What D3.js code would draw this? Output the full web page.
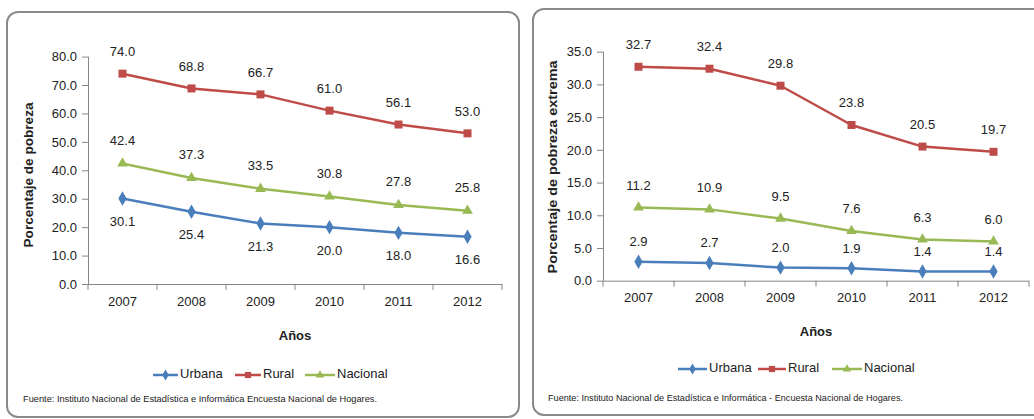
<!DOCTYPE html>
<html>
<head>
<meta charset="utf-8">
<script src="https://cdn.jsdelivr.net/npm/d3@7"></script>
<style>
  html, body { margin: 0; padding: 0; background: #fff; }
  svg { display: block; font-family: "Liberation Sans", Arial, sans-serif; }
</style>
</head>
<body>
<svg id="chart" width="1034" height="419"></svg>
<script>
const years = ["2007", "2008", "2009", "2010", "2011", "2012"];
const seriesNames = ["Urbana", "Rural", "Nacional"];

// Panel 1: pobreza total
const pobrezaUrbana = [30.1, 25.4, 21.3, 20.0, 18.0, 16.6];
const pobrezaRural = [74.0, 68.8, 66.7, 61.0, 56.1, 53.0];
const pobrezaNacional = [42.4, 37.3, 33.5, 30.8, 27.8, 25.8];
const ticksPobreza = [0, 10, 20, 30, 40, 50, 60, 70, 80];

// Panel 2: pobreza extrema
const extremaUrbana = [2.9, 2.7, 2.0, 1.9, 1.4, 1.4];
const extremaRural = [32.7, 32.4, 29.8, 23.8, 20.5, 19.7];
const extremaNacional = [11.2, 10.9, 9.5, 7.6, 6.3, 6.0];
const ticksExtrema = [0, 5, 10, 15, 20, 25, 30, 35];

const colors = { Urbana: "#4A7EBB", Rural: "#BE4B48", Nacional: "#98B954" };
const symbols = { Urbana: d3.symbolDiamond, Rural: d3.symbolSquare, Nacional: d3.symbolTriangle };
const symSize = { Urbana: 60, Rural: 64, Nacional: 50 };

const svg = d3.select("#chart");

// cut-off blue title at the very top (only descenders visible in the reference)
svg.append("text").attr("x", 70).attr("y", -3)
  .attr("fill", "#1F4E9A").attr("font-weight", "bold").attr("font-size", 16)
  .text("(Porcentaje de pobreza total y pobreza extrema según ámbito geográfico, 2007 - 2012)");

// panel frames
svg.append("rect").attr("x", 7).attr("y", 12).attr("width", 512).attr("height", 405)
  .attr("rx", 11).attr("fill", "none").attr("stroke", "#8a8a8a").attr("stroke-width", 2);
svg.append("rect").attr("x", 533).attr("y", 9).attr("width", 520).attr("height", 406)
  .attr("rx", 11).attr("fill", "none").attr("stroke", "#8a8a8a").attr("stroke-width", 2);

function drawPanel(cfg) {
  const g = svg.append("g");
  const x = d3.scaleBand().domain(years).range([cfg.x0, cfg.x1]);
  const y = d3.scaleLinear().domain([0, cfg.ymax]).range([cfg.y0, cfg.y1]);

  // y axis
  const yAxis = d3.axisLeft(y).tickValues(cfg.ticks).tickFormat(d3.format(".1f")).tickSize(6).tickPadding(5);
  const ya = g.append("g").attr("transform", `translate(${cfg.x0},0)`).call(yAxis);
  // x axis
  const xAxis = d3.axisBottom(x).tickSize(0).tickPadding(cfg.xPad);
  const xa = g.append("g").attr("transform", `translate(0,${cfg.y0})`).call(xAxis);
  // category boundary ticks
  g.selectAll(".bt").data(d3.range(years.length + 1)).join("line")
    .attr("x1", i => cfg.x0 + i * x.step()).attr("x2", i => cfg.x0 + i * x.step())
    .attr("y1", cfg.y0).attr("y2", cfg.y0 + 6).attr("stroke", "#868686");
  [ya, xa].forEach(a => {
    a.selectAll("path, line").attr("stroke", "#868686");
    a.selectAll("text").attr("fill", "#222").attr("font-size", 13)
      .attr("font-family", "'Liberation Sans', Arial, sans-serif");
  });
  xa.select(".domain").attr("d", `M${cfg.x0},0.5H${cfg.x1}`);
  ya.select(".domain").attr("d", `M0.5,${cfg.y0}V${cfg.y1}`);

  // axis titles
  g.append("text")
    .attr("transform", `translate(${cfg.ytX},${cfg.ytY}) rotate(-90)`)
    .attr("text-anchor", "middle").attr("dominant-baseline", "middle")
    .attr("font-weight", "bold").attr("font-size", 13.5).attr("fill", "#222")
    .attr("textLength", cfg.ytLen).attr("lengthAdjust", "spacingAndGlyphs")
    .text(cfg.yTitle);
  g.append("text").attr("x", (cfg.x0 + cfg.x1) / 2).attr("y", cfg.xtY)
    .attr("text-anchor", "middle").attr("dominant-baseline", "middle")
    .attr("font-weight", "bold").attr("font-size", 13).attr("fill", "#222").text("Años");

  const line = d3.line().x((d, i) => x(years[i]) + x.bandwidth() / 2).y(d => y(d));
  const order = ["Urbana", "Rural", "Nacional"];
  order.forEach(name => {
    const vals = cfg.data[name];
    g.append("path").datum(vals).attr("d", line).attr("fill", "none")
      .attr("stroke", colors[name]).attr("stroke-width", 2.5).attr("stroke-linejoin", "round");
    g.selectAll(null).data(vals).join("path")
      .attr("transform", (d, i) => `translate(${x(years[i]) + x.bandwidth() / 2},${y(d)})`)
      .attr("d", d3.symbol().type(symbols[name]).size(symSize[name]))
      .attr("fill", colors[name]);
    g.selectAll(null).data(vals).join("text")
      .attr("x", (d, i) => x(years[i]) + x.bandwidth() / 2)
      .attr("y", d => y(d) + cfg.labelOffset[name])
      .attr("text-anchor", "middle").attr("dominant-baseline", "middle")
      .attr("font-size", 13).attr("fill", "#222")
      .text(d => d.toFixed(1));
  });

  // legend
  const lg = g.append("g");
  cfg.legend.forEach((it, k) => {
    const name = order[k];
    lg.append("line").attr("x1", it[0]).attr("x2", it[1]).attr("y1", cfg.legY).attr("y2", cfg.legY)
      .attr("stroke", colors[name]).attr("stroke-width", 2.5);
    lg.append("path").attr("transform", `translate(${(it[0] + it[1]) / 2},${cfg.legY})`)
      .attr("d", d3.symbol().type(symbols[name]).size(symSize[name] * 0.6)).attr("fill", colors[name]);
    lg.append("text").attr("x", it[1] + 2).attr("y", cfg.legY)
      .attr("dominant-baseline", "middle").attr("font-size", 13).attr("fill", "#222").text(name);
  });

  // source
  g.append("text").attr("x", cfg.srcX).attr("y", cfg.srcY)
    .attr("dominant-baseline", "middle").attr("font-size", 9).attr("fill", "#222")
    .attr("textLength", cfg.srcLen).attr("lengthAdjust", "spacingAndGlyphs")
    .text(cfg.source);
}

drawPanel({
  x0: 88, x1: 502, y0: 284, y1: 56.6, ymax: 80, ticks: ticksPobreza, xPad: 13,
  data: { Urbana: pobrezaUrbana, Rural: pobrezaRural, Nacional: pobrezaNacional },
  labelOffset: { Urbana: 24, Rural: -21, Nacional: -22 },
  yTitle: "Porcentaje de pobreza", ytX: 29, ytY: 175, ytLen: 145,
  xtY: 337,
  legY: 375, legend: [[153, 178], [235, 261], [305, 335]],
  srcX: 23, srcY: 400, srcLen: 354,
  source: "Fuente: Instituto Nacional de Estadística e Informática   Encuesta Nacional de Hogares."
});

drawPanel({
  x0: 603, x1: 1029, y0: 280.7, y1: 51.7, ymax: 35, ticks: ticksExtrema, xPad: 12,
  data: { Urbana: extremaUrbana, Rural: extremaRural, Nacional: extremaNacional },
  labelOffset: { Urbana: -19, Rural: -21, Nacional: -21 },
  yTitle: "Porcentaje de pobreza extrema", ytX: 553, ytY: 167, ytLen: 213,
  xtY: 333,
  legY: 369, legend: [[678, 707], [758, 786], [832, 862]],
  srcX: 548, srcY: 399, srcLen: 355,
  source: "Fuente: Instituto Nacional de Estadística e Informática - Encuesta Nacional de Hogares."
});
</script>
</body>
</html>
